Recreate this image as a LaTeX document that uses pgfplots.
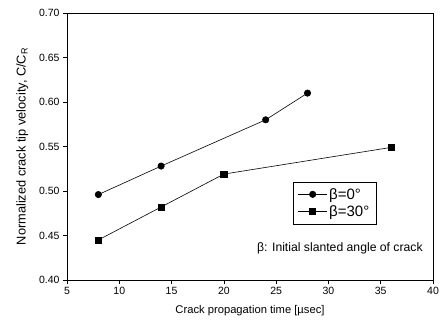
\documentclass[border=0pt]{standalone}
\usepackage{pgfplots}
\pgfplotsset{compat=1.18}
\usepackage{fontspec}
\setmainfont{Liberation Sans}
\begin{document}
\begin{tikzpicture}
\begin{axis}[
  scale only axis,
  width=366pt, height=267pt,
  xmin=5, xmax=40, ymin=0.40, ymax=0.70,
  xtick={5,10,...,40},
  ytick={0.40,0.45,...,0.701},
  yticklabel style={/pgf/number format/.cd,fixed,fixed zerofill,precision=2},
  /pgf/number format/assume math mode=true,
  tick align=outside,
  tick style={black, semithick},
  major tick length=4pt,
  xtick pos=bottom, ytick pos=left,
  ticklabel style={font=\fontsize{10.5}{12}\selectfont},
  xlabel={Crack propagation time [µsec]},
  ylabel={Normalized crack tip velocity, C/C\textsubscript{R}},
  xlabel style={font=\fontsize{11.2}{13}\selectfont, yshift=-4pt},
  ylabel style={font=\fontsize{12.8}{14}\selectfont, yshift=4pt},
  axis line style={black, semithick},
  legend style={at={(axis cs:30.6,0.4865)}, anchor=center, draw=black, semithick,
    font=\fontsize{15}{17}\selectfont, inner xsep=5pt, inner ysep=4pt,
    row sep=1pt},
  legend cell align=left,
  legend image code/.code={
    \draw[#1] (0cm,0cm) -- (1.0cm,0cm);
    \draw[#1, only marks] plot coordinates {(0.5cm,0cm)};
  },
]
\addplot[black, semithick, mark=*, mark size=3.2pt] coordinates {
  (8,0.496) (14,0.528) (24,0.580) (28,0.610)
};
\addlegendentry{β=0°}
\addplot[black, semithick, mark=square*, mark size=3.1pt] coordinates {
  (8,0.445) (14,0.482) (20,0.519) (36,0.549)
};
\addlegendentry{β=30°}
\node[font=\fontsize{12.2}{14}\selectfont] at (axis cs:31.1,0.436) {β: Initial slanted angle of crack};
\end{axis}
\path ([shift={(-67pt,-46pt)}]current axis.south west) rectangle ([shift={(10pt,13pt)}]current axis.north east);
\end{tikzpicture}
\end{document}
